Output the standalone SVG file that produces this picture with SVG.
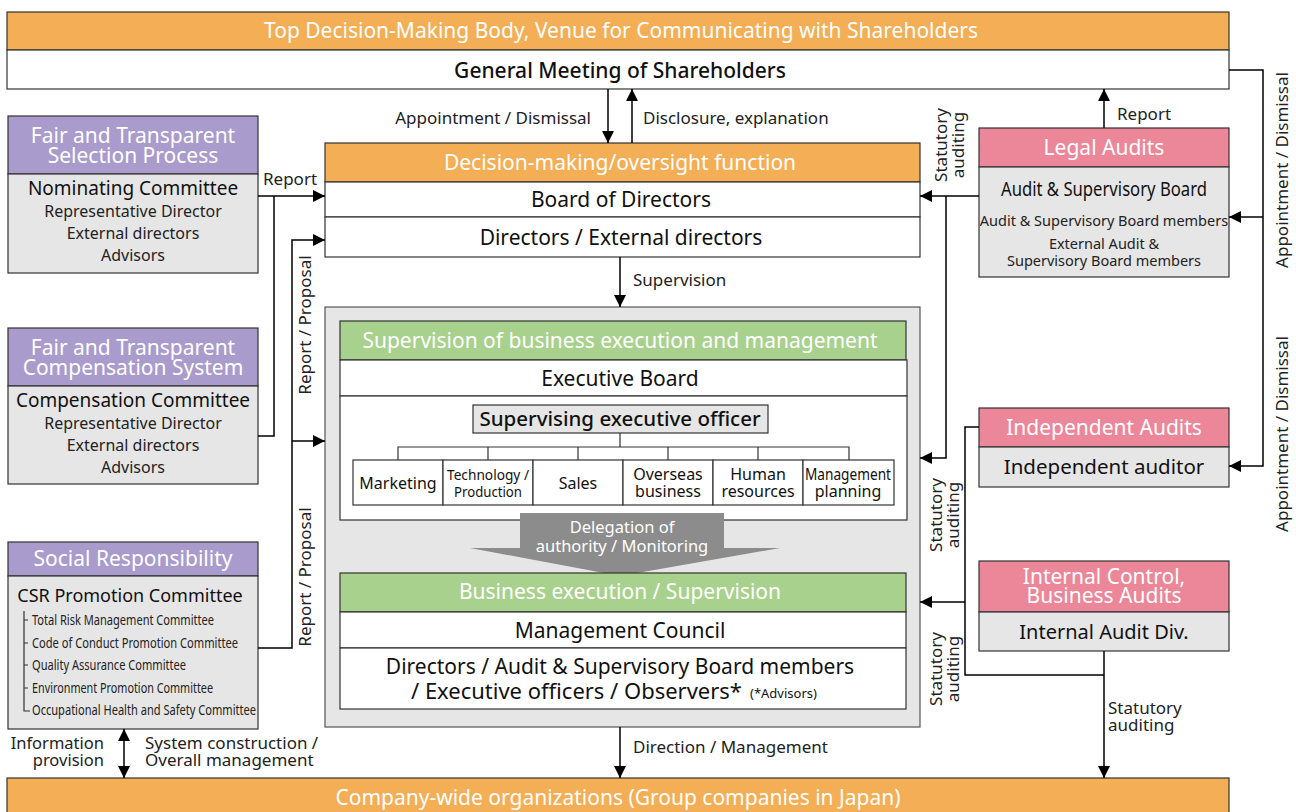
<svg xmlns="http://www.w3.org/2000/svg" width="1296" height="812" viewBox="0 0 1296 812">
  <defs>
    <marker id="ah" viewBox="0 0 10 10" refX="10" refY="5" markerWidth="12" markerHeight="12" markerUnits="userSpaceOnUse" orient="auto">
      <path d="M0,0 L10,5 L0,10 Z" fill="#000"/>
    </marker>
    <marker id="ahs" viewBox="0 0 10 10" refX="10" refY="5" markerWidth="12" markerHeight="12" markerUnits="userSpaceOnUse" orient="auto-start-reverse">
      <path d="M0,0 L10,5 L0,10 Z" fill="#000"/>
    </marker>
    <style>
      text { font-family: "Noto Sans", "Open Sans", sans-serif; fill: #111; }
      .hd { fill: #fff; font-size: 21px; text-anchor: middle; }
      .c { text-anchor: middle; }
      .big { font-size: 21px; }
      .com { font-size: 19px; }
      .mid { font-size: 16px; fill: #222; }
      .aud { font-size: 14.5px; fill: #222; }
      .lbl { font-size: 17px; fill: #222; }
      .sm { font-size: 14px; fill: #222; }
      .orange { fill: #F4AE55; stroke: #333; stroke-width: 1.2; }
      .purple { fill: #A99BCC; stroke: #333; stroke-width: 1.2; }
      .pink { fill: #EC8699; stroke: #333; stroke-width: 1.2; }
      .green { fill: #A9D18E; stroke: #333; stroke-width: 1.2; }
      .white { fill: #fff; stroke: #333; stroke-width: 1.2; }
      .gray { fill: #E6E6E6; stroke: #333; stroke-width: 1.2; }
      .ln { fill: none; stroke: #000; stroke-width: 1.5; }
      .tree { fill: none; stroke: #333; stroke-width: 1.2; }
    </style>
  </defs>

  <!-- General meeting of shareholders -->
  <g id="shareholders">
    <rect class="orange" x="7" y="12" width="1222" height="38"/>
    <text class="hd" x="621" y="38">Top Decision-Making Body, Venue for Communicating with Shareholders</text>
    <rect class="white" x="7" y="50" width="1222" height="39"/>
    <text class="c big" x="620" y="78" font-weight="500">General Meeting of Shareholders</text>
  </g>

  <!-- Board of directors -->
  <g id="board">
    <rect class="orange" x="325" y="143" width="595" height="39"/>
    <text class="hd" x="620" y="170">Decision-making/oversight function</text>
    <rect class="white" x="325" y="182" width="595" height="35"/>
    <text class="c big" x="621" y="207">Board of Directors</text>
    <rect class="white" x="325" y="217" width="595" height="40"/>
    <text class="c big" x="621" y="245">Directors / External directors</text>
  </g>

  <!-- Execution container -->
  <g id="execution">
    <rect x="325" y="307" width="595" height="420" fill="#E6E6E6" stroke="#555" stroke-width="1.2"/>
  </g>

  <g id="executive-board">
    <rect class="green" x="340" y="321" width="566" height="39"/>
    <text class="hd" x="620" y="348">Supervision of business execution and management</text>
    <rect class="white" x="340" y="360" width="567" height="36"/>
    <text class="c big" x="620" y="386">Executive Board</text>
    <rect class="white" x="340" y="396" width="567" height="124"/>
    <rect class="gray" x="473" y="405" width="295" height="28"/>
    <text class="c" x="620" y="426" font-size="20.5" font-weight="500">Supervising executive officer</text>
    <path class="tree" d="M620,433 V447 M398,460 V447 H849 V460 M488,447 V460 M578,447 V460 M668,447 V460 M758,447 V460"/>
  </g>

  <g id="departments">
    <rect class="white" x="353" y="460" width="90" height="45"/>
    <text class="c" x="398" y="489" font-size="16">Marketing</text>
    <rect class="white" x="443" y="460" width="90" height="45"/>
    <text class="c" x="488" y="480" font-size="15" textLength="82" lengthAdjust="spacingAndGlyphs">Technology /</text>
    <text class="c" x="488" y="497" font-size="15" textLength="68" lengthAdjust="spacingAndGlyphs">Production</text>
    <rect class="white" x="533" y="460" width="90" height="45"/>
    <text class="c" x="578" y="489" font-size="16">Sales</text>
    <rect class="white" x="623" y="460" width="90" height="45"/>
    <text class="c" x="668" y="480" font-size="16">Overseas</text>
    <text class="c" x="668" y="497" font-size="16">business</text>
    <rect class="white" x="713" y="460" width="90" height="45"/>
    <text class="c" x="758" y="480" font-size="16">Human</text>
    <text class="c" x="758" y="497" font-size="16">resources</text>
    <rect class="white" x="803" y="460" width="91" height="45"/>
    <text class="c" x="848" y="480" font-size="16" textLength="86" lengthAdjust="spacingAndGlyphs">Management</text>
    <text class="c" x="848" y="497" font-size="16">planning</text>
  </g>

  <!-- Delegation arrow -->
  <g id="delegation">
    <path d="M520,513 H724 V548 H780 L620,576 L470,548 H520 Z" fill="#8C8C8C"/>
    <text class="c" x="622" y="533" font-size="16.5" style="fill:#fff">Delegation of</text>
    <text class="c" x="622" y="552" font-size="16.5" style="fill:#fff">authority / Monitoring</text>
  </g>

  <g id="management-council">
    <rect class="green" x="340" y="573" width="566" height="39"/>
    <text class="hd" x="620" y="599">Business execution / Supervision</text>
    <rect class="white" x="340" y="612" width="566" height="36"/>
    <text class="c big" x="620" y="638">Management Council</text>
    <rect class="white" x="340" y="648" width="566" height="61"/>
    <text class="c big" x="620" y="674">Directors / Audit &amp; Supervisory Board members</text>
    <text class="big" x="411" y="699" textLength="331" lengthAdjust="spacingAndGlyphs">/ Executive officers / Observers*</text>
    <text x="750" y="698" font-size="13">(*Advisors)</text>
  </g>

  <!-- Company-wide organizations -->
  <g id="company">
    <rect class="orange" x="7" y="778" width="1222" height="40"/>
    <text class="hd" x="618" y="805">Company-wide organizations (Group companies in Japan)</text>
  </g>

  <!-- Left-hand committees -->
  <g id="nominating">
    <rect class="purple" x="8" y="116" width="250" height="58"/>
    <text class="hd" x="133" y="143">Fair and Transparent</text>
    <text class="hd" x="133" y="163">Selection Process</text>
    <rect class="gray" x="8" y="174" width="250" height="99"/>
    <text class="c com" x="133" y="195">Nominating Committee</text>
    <text class="c mid" x="133" y="217">Representative Director</text>
    <text class="c mid" x="133" y="239">External directors</text>
    <text class="c mid" x="133" y="261">Advisors</text>
  </g>

  <g id="compensation">
    <rect class="purple" x="8" y="328" width="250" height="58"/>
    <text class="hd" x="133" y="355">Fair and Transparent</text>
    <text class="hd" x="133" y="375">Compensation System</text>
    <rect class="gray" x="8" y="386" width="250" height="98"/>
    <text class="c com" x="133" y="407">Compensation Committee</text>
    <text class="c mid" x="133" y="429">Representative Director</text>
    <text class="c mid" x="133" y="451">External directors</text>
    <text class="c mid" x="133" y="473">Advisors</text>
  </g>

  <g id="csr">
    <rect class="purple" x="8" y="542" width="250" height="34"/>
    <text class="hd" x="133" y="566">Social Responsibility</text>
    <rect class="gray" x="8" y="576" width="250" height="153"/>
    <text class="c" x="130" y="602" font-size="18">CSR Promotion Committee</text>
    <path class="tree" d="M24,611 V711 H30 M24,620 H28 M24,643 H28 M24,665 H28 M24,688 H28"/>
    <text class="sm" x="32" y="625" textLength="182" lengthAdjust="spacingAndGlyphs">Total Risk Management Committee</text>
    <text class="sm" x="32" y="648" textLength="206" lengthAdjust="spacingAndGlyphs">Code of Conduct Promotion Committee</text>
    <text class="sm" x="32" y="670" textLength="154" lengthAdjust="spacingAndGlyphs">Quality Assurance Committee</text>
    <text class="sm" x="32" y="693" textLength="181" lengthAdjust="spacingAndGlyphs">Environment Promotion Committee</text>
    <text class="sm" x="32" y="715" textLength="224" lengthAdjust="spacingAndGlyphs">Occupational Health and Safety Committee</text>
  </g>

  <!-- Right-hand audit bodies -->
  <g id="legal-audits">
    <rect class="pink" x="979" y="128" width="250" height="39"/>
    <text class="hd" x="1104" y="155">Legal Audits</text>
    <rect class="gray" x="979" y="167" width="250" height="110"/>
    <text class="c com" x="1104" y="196" textLength="206" lengthAdjust="spacingAndGlyphs">Audit &amp; Supervisory Board</text>
    <text class="c aud" x="1104" y="226">Audit &amp; Supervisory Board members</text>
    <text class="c aud" x="1104" y="249">External Audit &amp;</text>
    <text class="c aud" x="1104" y="266">Supervisory Board members</text>
  </g>

  <g id="independent-audits">
    <rect class="pink" x="979" y="408" width="250" height="39"/>
    <text class="hd" x="1104" y="435">Independent Audits</text>
    <rect class="gray" x="979" y="447" width="250" height="40"/>
    <text class="c" x="1104" y="474" font-size="20.5">Independent auditor</text>
  </g>

  <g id="internal-audits">
    <rect class="pink" x="979" y="561" width="250" height="51"/>
    <text class="hd" x="1104" y="584">Internal Control,</text>
    <text class="hd" x="1104" y="603">Business Audits</text>
    <rect class="gray" x="979" y="612" width="250" height="39"/>
    <text class="c" x="1104" y="639" font-size="20">Internal Audit Div.</text>
  </g>

  <!-- Connectors -->
  <g id="connectors">
    <!-- shareholders / board -->
    <line class="ln" x1="608" y1="89" x2="608" y2="143" marker-end="url(#ah)"/>
    <line class="ln" x1="632" y1="143" x2="632" y2="89" marker-end="url(#ah)"/>
    <line class="ln" x1="620" y1="257" x2="620" y2="307" marker-end="url(#ah)"/>
    <line class="ln" x1="620" y1="727" x2="620" y2="778" marker-end="url(#ah)"/>

    <!-- committees to board -->
    <path class="ln" d="M258,196 H325" marker-end="url(#ah)"/>
    <path class="ln" d="M274,196 V436 H258"/>
    <path class="ln" d="M258,648 H292 V240 H325" marker-end="url(#ah)"/>
    <path class="ln" d="M292,441 H325" marker-end="url(#ah)"/>
    <line class="ln" x1="124" y1="729" x2="124" y2="778" marker-start="url(#ahs)" marker-end="url(#ah)"/>

    <!-- audit bodies -->
    <line class="ln" x1="1104" y1="128" x2="1104" y2="89" marker-end="url(#ah)"/>
    <path class="ln" d="M979,196 H920" marker-end="url(#ah)"/>
    <path class="ln" d="M946,196 V458 H920" marker-end="url(#ah)"/>
    <path class="ln" d="M979,427 H965 V675 H1104"/>
    <path class="ln" d="M965,602 H920" marker-end="url(#ah)"/>
    <path class="ln" d="M1104,651 V778" marker-end="url(#ah)"/>

    <!-- appointment of auditors -->
    <path class="ln" d="M1229,70 H1263 V466 H1229" marker-end="url(#ah)"/>
    <path class="ln" d="M1263,217 H1229" marker-end="url(#ah)"/>
  </g>

  <!-- Connector labels -->
  <g id="labels">
    <text class="lbl" x="591" y="124" text-anchor="end">Appointment / Dismissal</text>
    <text class="lbl" x="643" y="124">Disclosure, explanation</text>
    <text class="lbl" x="633" y="286">Supervision</text>
    <text class="lbl" x="633" y="753">Direction / Management</text>
    <text class="lbl" x="263" y="185">Report</text>
    <text class="lbl" x="1117" y="120">Report</text>
    <text class="lbl" x="1108" y="714">Statutory</text>
    <text class="lbl" x="1108" y="731">auditing</text>

    <text class="lbl c" transform="translate(311,325) rotate(-90)">Report / Proposal</text>
    <text class="lbl c" transform="translate(311,577) rotate(-90)">Report / Proposal</text>

    <text class="lbl c" transform="translate(947,145) rotate(-90)">Statutory</text>
    <text class="lbl c" transform="translate(964,145) rotate(-90)">auditing</text>
    <text class="lbl c" transform="translate(942,515) rotate(-90)">Statutory</text>
    <text class="lbl c" transform="translate(959,515) rotate(-90)">auditing</text>
    <text class="lbl c" transform="translate(942,669) rotate(-90)">Statutory</text>
    <text class="lbl c" transform="translate(959,669) rotate(-90)">auditing</text>

    <text class="lbl c" transform="translate(1288,170) rotate(-90)">Appointment / Dismissal</text>
    <text class="lbl c" transform="translate(1288,434) rotate(-90)">Appointment / Dismissal</text>

    <text class="lbl" x="104" y="749" text-anchor="end" font-size="16.5" style="font-size:16.5px">Information</text>
    <text class="lbl" x="104" y="766" text-anchor="end" style="font-size:16.5px">provision</text>
    <text class="lbl" x="145" y="749">System construction /</text>
    <text class="lbl" x="145" y="766">Overall management</text>
  </g>
</svg>
